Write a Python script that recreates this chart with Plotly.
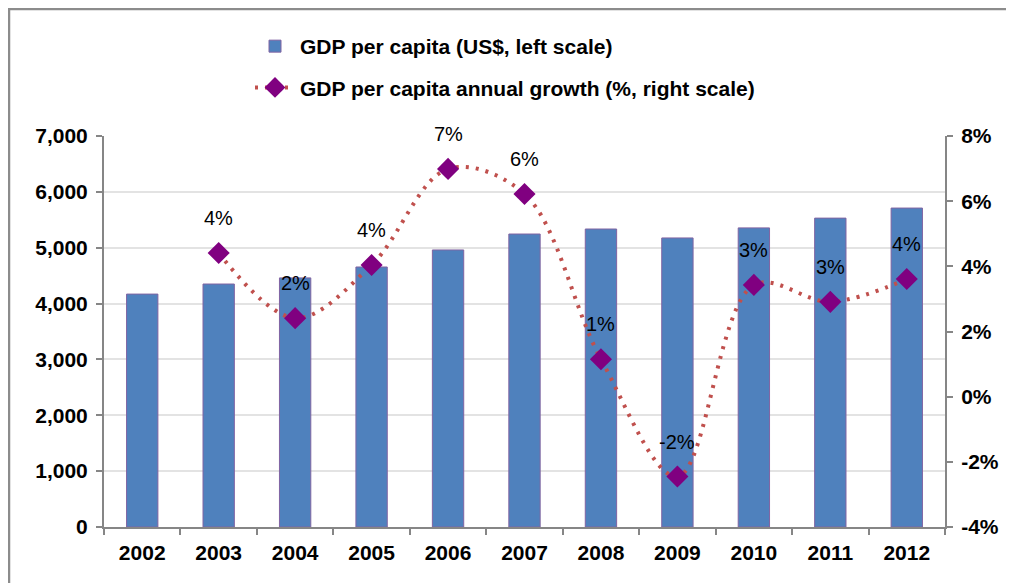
import plotly.graph_objects as go

years = ["2002", "2003", "2004", "2005", "2006", "2007", "2008", "2009", "2010", "2011", "2012"]
gdp_per_capita = [4170, 4350, 4460, 4655, 4960, 5245, 5335, 5175, 5355, 5530, 5710]
growth_pct = [None, 4.41, 2.41, 4.04, 6.99, 6.22, 1.15, -2.45, 3.43, 2.91, 3.61]
growth_ticks = [-4, -2, 0, 2, 4, 6, 8]

bar_name = "GDP per capita (US$, left scale)"
line_name = "GDP per capita annual growth (%, right scale)"

W, H = 1014, 583
OFF = 8  # page body margin
# plot area in page pixels (reference): x 104..945, y 136..527
ML = 104 - OFF
MR = W - (945 - OFF)
MT = 136 - OFF
MB = H - (527 - OFF)
PW, PH = W - ML - MR, H - MT - MB

FONT = "Liberation Sans, Arial, sans-serif"

fig = go.Figure()
fig.add_trace(go.Bar(
    x=years, y=gdp_per_capita, name=bar_name, yaxis="y",
    marker=dict(color="#4f81bd", line=dict(color="#8064a2", width=1)),
    legendgroup="a",
))
fig.add_trace(go.Scatter(
    x=years, y=growth_pct, name=line_name, yaxis="y2", mode="lines+markers",
    line=dict(color="#c0504d", width=4, dash="3px,7px", shape="spline", smoothing=1.0),
    marker=dict(symbol="diamond", size=17, color="#800080"),
    legendgroup="b", connectgaps=False,
))

annotations = []
for i, g in enumerate(growth_pct):
    if g is None:
        continue
    annotations.append(dict(
        x=i, y=g, xref="x", yref="y2", text=f"{round(g):d}%", showarrow=False,
        yshift=35, font=dict(family=FONT, size=20, color="black"),
    ))

def px_x(p):  # page pixel -> paper
    return (p - OFF - ML) / PW

def px_y(p):
    return (H - MB - (p - OFF)) / PH

shapes = [
    dict(type="line", xref="paper", yref="paper", x0=px_x(8), x1=px_x(W + 20), y0=px_y(9), y1=px_y(9),
         line=dict(color="#8c8c8c", width=2.5)),
    dict(type="line", xref="paper", yref="paper", x0=px_x(9), x1=px_x(9), y0=px_y(9), y1=px_y(H + 20),
         line=dict(color="#8c8c8c", width=2.5)),
]

fig.update_layout(
    width=W, height=H,
    margin=dict(l=ML, r=MR, t=MT, b=MB),
    paper_bgcolor="white", plot_bgcolor="white",
    bargap=0.59,
    font=dict(family=FONT, color="black"),
    showlegend=True,
    legend=dict(
        x=px_x(250), y=px_y(26), xanchor="left", yanchor="top",
        font=dict(family=FONT, size=21, color="black", weight="bold"),
        traceorder="grouped", tracegroupgap=11,
        bgcolor="rgba(0,0,0,0)", itemwidth=40,
    ),
    xaxis=dict(
        type="category", range=[-0.5, len(years) - 0.5], autorange=False,
        showline=True, linecolor="#868686", linewidth=2,
        ticks="outside", tickson="boundaries", ticklen=6, tickcolor="#868686", tickwidth=1.5,
        showgrid=False, tickangle=0, ticklabelstandoff=6,
        tickfont=dict(family=FONT, size=21, color="black", weight="bold"),
    ),
    yaxis=dict(
        range=[0, 7000], dtick=1000, tickformat=",", showline=True, linecolor="#868686", linewidth=2,
        ticks="outside", ticklen=6, tickcolor="#868686", tickwidth=1.5,
        showgrid=True, gridcolor="#e3e3e3", gridwidth=1.5, zeroline=False,
        tickfont=dict(family=FONT, size=21, color="black", weight="bold"),
        ticklabelstandoff=4,
    ),
    yaxis2=dict(
        range=[-4, 8], tickmode="array", tickvals=growth_ticks,
        ticktext=[f"{v}%" for v in growth_ticks],
        overlaying="y", side="right",
        showline=True, linecolor="#868686", linewidth=2,
        ticks="outside", ticklen=6, tickcolor="#868686", tickwidth=1.5,
        showgrid=False, zeroline=False,
        tickfont=dict(family=FONT, size=21, color="black", weight="bold"),
        ticklabelstandoff=4,
    ),
    annotations=annotations,
    shapes=shapes,
)

fig.write_html("out.html")
